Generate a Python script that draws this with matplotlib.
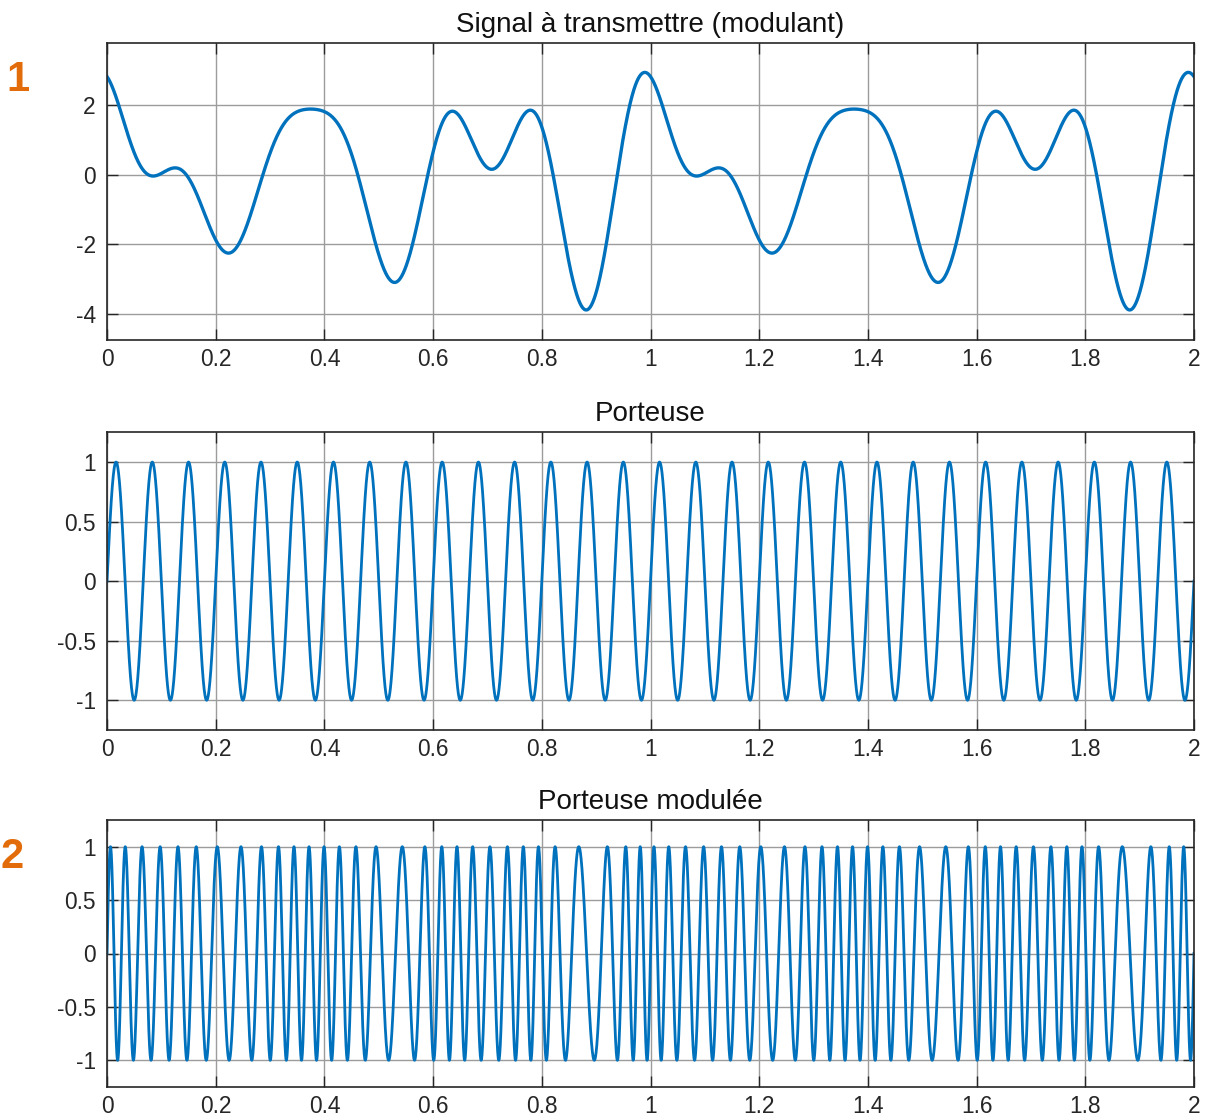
import numpy as np
import matplotlib
matplotlib.use("Agg")
import matplotlib.pyplot as plt
from matplotlib.ticker import FormatStrFormatter

# signal modulant : somme de 3 harmoniques
harmoniques = [3, 5, 6]          # Hz
amplitudes = [2.0, 1.0, 1.0]
phases_deg = [-37.0, 16.0, 74.5]

f_porteuse = 15.0                # Hz, porteuse seule
f_centre = 30.0                  # Hz, porteuse modulee
kf = 3.3                         # Hz par unite de signal

t_max = 2.0
n_points = 8001

x_ticks = [0, 0.2, 0.4, 0.6, 0.8, 1, 1.2, 1.4, 1.6, 1.8, 2]
y_ticks_haut = [-4, -2, 0, 2]
y_ticks_bas = [-1, -0.5, 0, 0.5, 1]

t = np.linspace(0, t_max, n_points)
m = np.zeros_like(t)
for k, a, p in zip(harmoniques, amplitudes, phases_deg):
    m += a * np.cos(2 * np.pi * k * t + np.radians(p))

porteuse = np.sin(2 * np.pi * f_porteuse * t)

dt = t[1] - t[0]
integrale = np.concatenate([[0], np.cumsum((m[1:] + m[:-1]) / 2 * dt)])
modulee = np.sin(2 * np.pi * f_centre * t + 2 * np.pi * kf * integrale)

plt.rcParams['font.family'] = ['Liberation Sans', 'DejaVu Sans']
plt.rcParams['axes.unicode_minus'] = False

bleu = '#0072BD'
gris_txt = '#262626'

fig = plt.figure(figsize=(12.08, 11.17), dpi=100)
W, H = 1208, 1117

def axe(top, bottom):
    return fig.add_axes([107 / W, 1 - bottom / H, 1087 / W, (bottom - top) / H])

ax1 = axe(42.7, 340)
ax2 = axe(432.3, 730)
ax3 = axe(820, 1087)

ax1.plot(t, m, color=bleu, lw=2.4)
ax2.plot(t, porteuse, color=bleu, lw=2)
ax3.plot(t, modulee, color=bleu, lw=2)

ax1.set_ylim(-4.75, 3.8)
ax1.set_yticks(y_ticks_haut)
ax2.set_ylim(-1.25, 1.25)
ax3.set_ylim(-1.25, 1.25)

titres = ["Signal à transmettre (modulant)", "Porteuse", "Porteuse modulée"]
for ax, titre in zip([ax1, ax2, ax3], titres):
    ax.set_xlim(0, t_max)
    ax.set_xticks(x_ticks)
    ax.xaxis.set_major_formatter(FormatStrFormatter('%g'))
    ax.yaxis.set_major_formatter(FormatStrFormatter('%g'))
    if ax is not ax1:
        ax.set_yticks(y_ticks_bas)
    ax.grid(True, color='#9c9c9c', lw=1)
    ax.set_axisbelow(True)
    ax.tick_params(direction='in', length=8, width=1, top=True, right=True,
                   labelsize=16.4, colors=gris_txt, pad=8)
    ax.tick_params(axis='x', pad=6)
    for s in ax.spines.values():
        s.set_color(gris_txt)
        s.set_linewidth(1.2)
    ax.set_title(titre, fontsize=20, color='#111111', pad=8)

orange = '#E36C0A'
fig.text(18 / W, 1 - 80 / H, '1', color=orange, fontsize=30, fontweight='bold',
         ha='center', va='center')
fig.text(1 / W, 1 - 857 / H, '2', color=orange, fontsize=30, fontweight='bold',
         ha='left', va='center')

fig.savefig("out.png", dpi=100)
